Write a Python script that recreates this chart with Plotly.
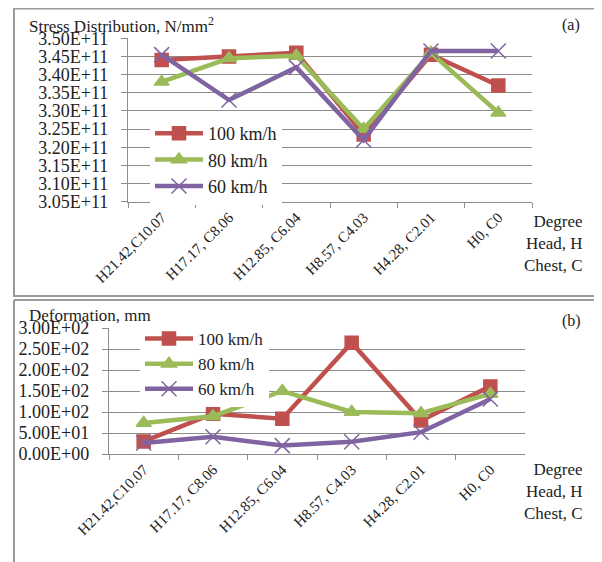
import plotly.graph_objects as go

# page body has an 8px margin: the figure starts at (8, 8) in the window
OFF = 8
W, H = 602 - OFF, 562 - OFF

categories = ["H21.42,C10.07", "H17.17, C8.06", "H12.85, C6.04",
              "H8.57, C4.03", "H4.28, C2.01", "H0, C0"]
series_names = ["100 km/h", "80 km/h", "60 km/h"]

stress_100 = [3.44e11, 3.45e11, 3.46e11, 3.235e11, 3.455e11, 3.37e11]
stress_80 = [3.38e11, 3.445e11, 3.452e11, 3.25e11, 3.46e11, 3.295e11]
stress_60 = [3.455e11, 3.33e11, 3.42e11, 3.22e11, 3.465e11, 3.465e11]

deform_100 = [30, 96, 84, 265, 80, 161]
deform_80 = [74, 90, 150, 100, 97, 143]
deform_60 = [26, 41, 20, 29, 52, 131]

stress_ticks = ["3.05E+11", "3.10E+11", "3.15E+11", "3.20E+11", "3.25E+11",
                "3.30E+11", "3.35E+11", "3.40E+11", "3.45E+11", "3.50E+11"]
deform_ticks = ["0.00E+00", "5.00E+01", "1.00E+02", "1.50E+02",
                "2.00E+02", "2.50E+02", "3.00E+02"]

colors = ["#C0504D", "#9BBB59", "#8064A2"]
symbols = ["square", "triangle-up", "x-thin"]
FONT = "Liberation Serif, Times New Roman, serif"


def px(x):
    return (x - OFF) / W


def py(y):
    return 1 - (y - OFF) / H


fig = go.Figure()

for vals, name, c, s in zip([stress_100, stress_80, stress_60], series_names, colors, symbols):
    fig.add_trace(go.Scatter(
        x=categories, y=vals, name=name, mode="lines+markers",
        line=dict(color=c, width=4.5),
        marker=dict(symbol=s, size=15 if s == "x-thin" else 13, color=c,
                    line=dict(color=c, width=1.5)),
        xaxis="x", yaxis="y", legend="legend"))

for vals, name, c, s in zip([deform_100, deform_80, deform_60], series_names, colors, symbols):
    fig.add_trace(go.Scatter(
        x=categories, y=vals, name=name, mode="lines+markers",
        line=dict(color=c, width=4.5),
        marker=dict(symbol=s, size=15 if s == "x-thin" else 13, color=c,
                    line=dict(color=c, width=1.5)),
        xaxis="x2", yaxis="y2", legend="legend2"))

grid = "#8c8c8c"
xcommon = dict(type="category", tickangle=-45, ticks="outside", ticklen=5,
               tickson="boundaries", showline=True, linecolor=grid, linewidth=1.3,
               tickcolor=grid, showgrid=False, range=[-0.5, 5.5], automargin=False,
               tickfont=dict(family=FONT, size=15, color="#222"))
ycommon = dict(ticks="outside", ticklen=6, tickcolor=grid, showline=True,
               linecolor=grid, linewidth=1.3, showgrid=True, gridcolor=grid,
               gridwidth=1.3, zeroline=False, ticklabelstandoff=9, automargin=False,
               tickfont=dict(family=FONT, size=18, color="#222"))

fig.update_layout(
    width=W, height=H, margin=dict(l=0, r=0, t=0, b=0, autoexpand=False),
    paper_bgcolor="white", plot_bgcolor="white",
    font=dict(family=FONT, color="#222"),
    xaxis=dict(domain=[px(128), px(532)], anchor="y", **xcommon),
    yaxis=dict(domain=[py(201.7), py(38.3)], anchor="x",
               range=[3.05e11, 3.50e11],
               tickvals=[float(t) for t in stress_ticks], ticktext=stress_ticks,
               **ycommon),
    xaxis2=dict(domain=[px(109), px(525)], anchor="y2", **xcommon),
    yaxis2=dict(domain=[py(454), py(328)], anchor="x2",
                range=[0, 300],
                tickvals=[float(t) for t in deform_ticks], ticktext=deform_ticks,
                **ycommon),
    legend=dict(x=px(150), y=py(115), xanchor="left", yanchor="top",
                bgcolor="white", font=dict(family=FONT, size=18, color="#222"),
                tracegroupgap=0, itemwidth=48),
    legend2=dict(x=px(140), y=py(321), xanchor="left", yanchor="top",
                 bgcolor="white", font=dict(family=FONT, size=17, color="#222"),
                 tracegroupgap=0, itemwidth=48),
    showlegend=True,
)

# panel frames
fig.add_shape(type="rect", xref="paper", yref="paper",
              x0=px(14), y0=py(296), x1=px(599), y1=py(8.5),
              line=dict(color="#9a9a9a", width=2), layer="below")
fig.add_shape(type="line", xref="paper", yref="paper",
              x0=px(14), y0=py(300), x1=px(599), y1=py(300),
              line=dict(color="#9a9a9a", width=2))
fig.add_shape(type="line", xref="paper", yref="paper",
              x0=px(14), y0=py(300), x1=px(14), y1=0,
              line=dict(color="#9a9a9a", width=2))

ann_font = dict(family=FONT, size=16, color="#222")
fig.add_annotation(text="Stress Distribution, N/mm<sup>2</sup>", xref="paper", yref="paper",
                   x=px(27), y=py(25), xanchor="left", yanchor="middle",
                   showarrow=False, font=dict(family=FONT, size=17, color="#222"))
fig.add_annotation(text="(a)", xref="paper", yref="paper",
                   x=px(582), y=py(25), xanchor="right", yanchor="middle",
                   showarrow=False, font=ann_font)
fig.add_annotation(text="Deformation, mm", xref="paper", yref="paper",
                   x=px(27), y=py(315), xanchor="left", yanchor="middle",
                   showarrow=False, font=dict(family=FONT, size=17, color="#222"))
fig.add_annotation(text="(b)", xref="paper", yref="paper",
                   x=px(583), y=py(321), xanchor="right", yanchor="middle",
                   showarrow=False, font=ann_font)
for ytop in (210, 458):
    fig.add_annotation(text="Degree<br>Head, H<br>Chest, C", xref="paper", yref="paper",
                       x=px(585), y=py(ytop), xanchor="right", yanchor="top",
                       align="right", showarrow=False,
                       font=dict(family=FONT, size=17, color="#222"))

fig.write_html("out.html")
